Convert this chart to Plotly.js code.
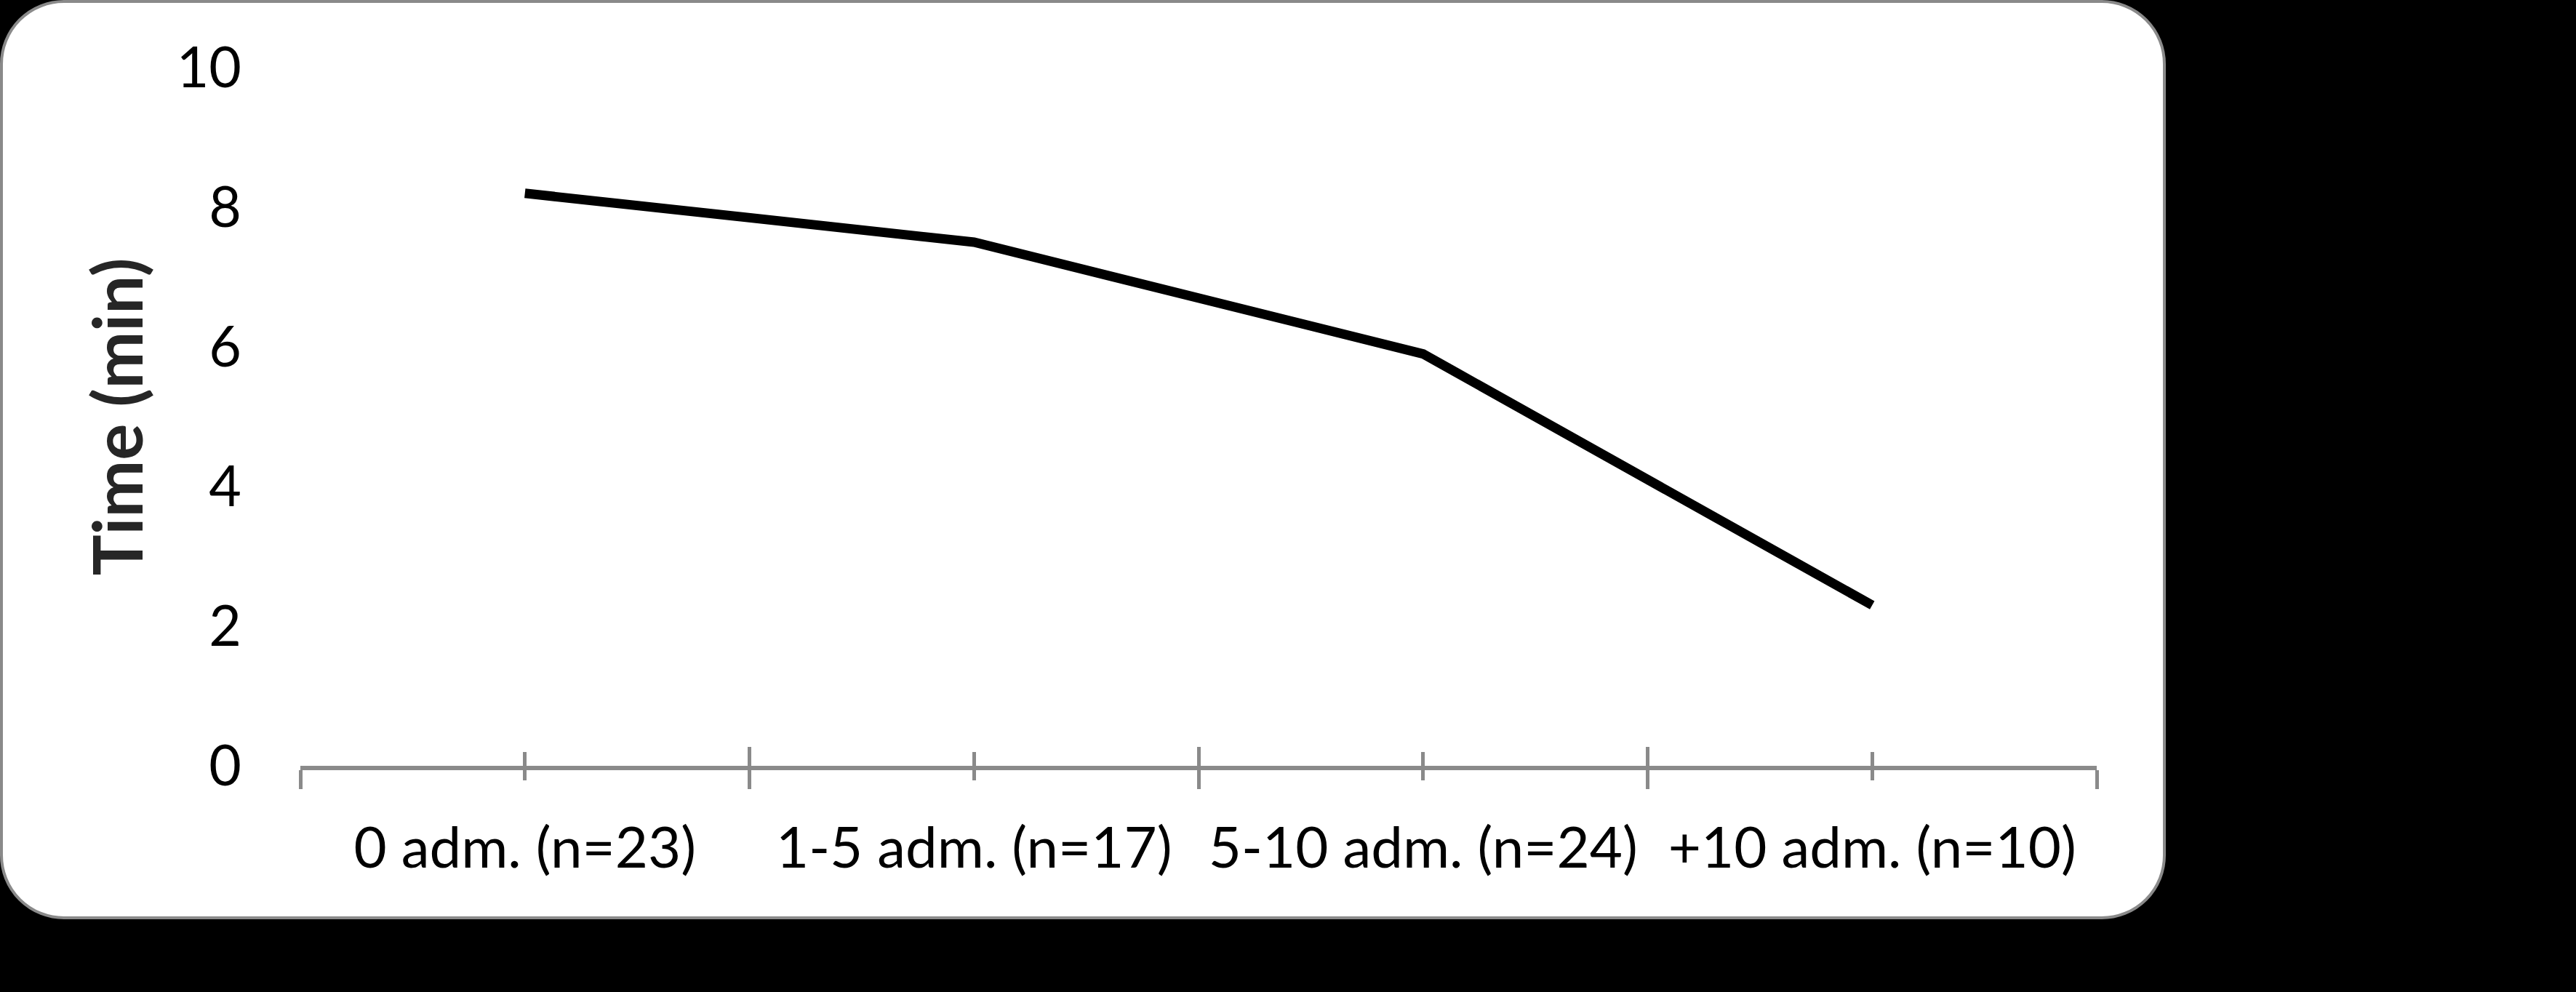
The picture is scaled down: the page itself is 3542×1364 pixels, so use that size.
<!DOCTYPE html>
<html>
<head>
<meta charset="utf-8">
<script src="https://cdn.plot.ly/plotly-3.0.1.min.js"></script>
<style>
  html, body { margin: 0; padding: 0; background: #000; width: 3542px; height: 1364px; overflow: hidden; }
  #panel { position: absolute; left: 0; top: 0; width: 2978px; height: 1264px; box-sizing: border-box;
           background: #fff; border: 4px solid #8a8a8a; border-radius: 88px; }
  #chart { position: absolute; left: 0; top: 0; width: 3542px; height: 1364px; }
</style>
</head>
<body>
<div id="panel"></div>
<div id="chart"></div>
<script>
// ---- data ----
const categories = ["0 adm. (n=23)", "1-5 adm. (n=17)", "5-10 adm. (n=24)", "+10 adm. (n=10)"];
const timeMin = [8.2, 7.5, 5.9, 2.3];
const yTickValues = [0, 2, 4, 6, 8, 10];

const axisGray = "#8a8a8a";
const fontFam = "Lato, 'Open Sans', sans-serif";

const traces = [
  { x: categories, y: timeMin, type: "scatter", mode: "lines",
    line: { color: "#000", width: 13 }, hoverinfo: "skip", showlegend: false, xaxis: "x", yaxis: "y" }
];
// invisible helper traces so overlay axes carry the same categories
["x2", "x3", "x4"].forEach(ax => traces.push({
  x: categories, y: timeMin, type: "scatter", mode: "lines", line: { width: 0, color: "rgba(0,0,0,0)" },
  hoverinfo: "skip", showlegend: false, xaxis: ax, yaxis: "y"
}));

const baseX = {
  type: "category", categoryorder: "array", categoryarray: categories,
  range: [-0.5, 3.5], showgrid: false, zeroline: false, fixedrange: true,
  tickcolor: axisGray, tickwidth: 5, anchor: "y", side: "bottom"
};

const layout = {
  width: 3542, height: 1364,
  paper_bgcolor: "rgba(0,0,0,0)", plot_bgcolor: "rgba(0,0,0,0)",
  margin: { l: 413, r: 659, t: 93, b: 311, pad: 0 },
  showlegend: false,
  font: { family: fontFam, color: "#000" },
  xaxis: Object.assign({}, baseX, {
    tickson: "boundaries", ticks: "outside", ticklen: 26,
    showline: true, linecolor: axisGray, linewidth: 6,
    showticklabels: true, ticklabelstandoff: 40,
    tickfont: { family: fontFam, size: 78, color: "#000" }
  }),
  xaxis2: Object.assign({}, baseX, { overlaying: "x", tickson: "boundaries", ticks: "inside", ticklen: 26, showticklabels: false, showline: false }),
  xaxis3: Object.assign({}, baseX, { overlaying: "x", tickson: "labels", ticks: "outside", ticklen: 19, showticklabels: false, showline: false }),
  xaxis4: Object.assign({}, baseX, { overlaying: "x", tickson: "labels", ticks: "inside", ticklen: 19, showticklabels: false, showline: false }),
  yaxis: {
    range: [0, 10], tickmode: "array", tickvals: yTickValues, ticktext: yTickValues.map(String),
    showgrid: false, zeroline: false, showline: false, ticks: "", fixedrange: true,
    ticklabelstandoff: 80,
    tickfont: { family: fontFam, size: 77, color: "#000" },
    title: { text: "Time (min)", standoff: 14, font: { family: fontFam, size: 94, color: "#262626", weight: "bold" } }
  }
};

Plotly.newPlot("chart", traces, layout, { staticPlot: true, displayModeBar: false });
</script>
</body>
</html>
